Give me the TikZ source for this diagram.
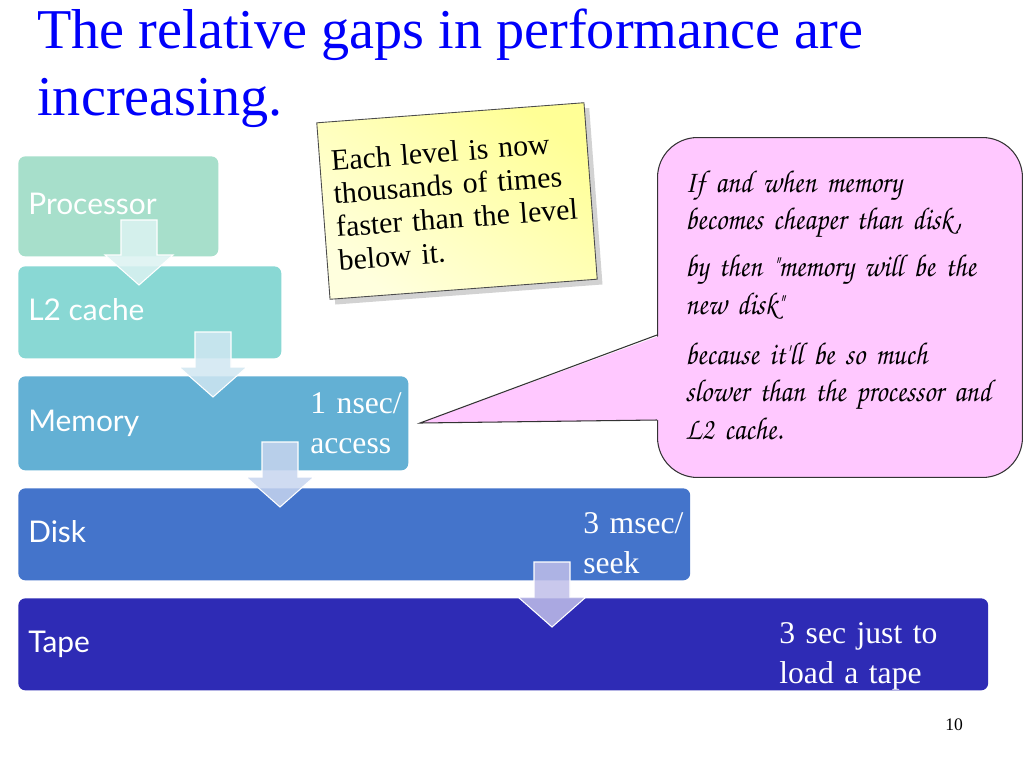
\documentclass[tikz,border=0pt]{standalone}
\usepackage{fontspec}
\setmainfont{Liberation Serif}
\newfontfamily\handfont{Lato}
\newfontfamily\chorusfont[FakeStretch=0.88]{TeX Gyre Chorus}
\usepackage{tikz}
\usetikzlibrary{positioning,calc,shadows}

\definecolor{procgreen}{RGB}{167,223,203}
\definecolor{cacheteal}{RGB}{137,216,212}
\definecolor{memblue}{RGB}{99,176,212}
\definecolor{diskblue}{RGB}{68,116,203}
\definecolor{tapeblue}{RGB}{46,43,181}
\definecolor{titleblue}{RGB}{0,0,250}
\definecolor{noteyellow}{RGB}{255,255,150}
\definecolor{notelight}{RGB}{255,255,222}
\definecolor{bubblepink}{RGB}{255,200,255}

\begin{document}
\begin{tikzpicture}[x=0.02cm, y=-0.02cm,
		box_style/.style={rectangle,rounded corners=4pt,inner sep=0pt,anchor=north west},
		label_style/.style={anchor=base west,inner sep=0pt,text=white,font=\handfont\fontsize{17}{20}\selectfont},
		time_style/.style={anchor=base west,inner sep=0pt,text=white,align=left,text width=4cm,font=\fontsize{18}{23}\selectfont},
		title_style/.style={anchor=base west,inner sep=0pt,text=titleblue,font=\fontsize{32}{38}\selectfont},
		arrow_style/.style={draw=white,line width=0.6pt,fill opacity=0.85},
		note_style/.style={rectangle,draw=black!70,line width=0.5pt,top color=noteyellow,bottom color=notelight,shading angle=-35,
			minimum width=5.36cm,minimum height=3.54cm,text width=4.9cm,align=left,
			drop shadow={shadow xshift=3pt,shadow yshift=-3pt,opacity=0.35},font=\fontsize{17}{19}\selectfont},
		bubble_style/.style={rectangle,rounded corners=0.8cm,draw=black!80,line width=0.6pt,fill=bubblepink,anchor=north west,
			minimum width=7.3cm,minimum height=6.8cm},
		bubble_text_style/.style={anchor=base west,inner sep=0pt,align=left,text width=6.6cm,font=\chorusfont\fontsize{18}{21.5}\selectfont}]
		
		\fill[white] (0,0) rectangle (1024,768);
		\useasboundingbox (0,0) rectangle (1024,768);
		
		% title
		\node[title_style] (title1) at (37,48) {The relative gaps in performance are};
		\node[title_style] (title2) at (37,115) {increasing.};
		
		% levels
		\node[box_style,fill=procgreen,minimum width=4cm,minimum height=2cm] (proc) at (18,156) {};
		\node[box_style,fill=cacheteal,minimum width=5.26cm,minimum height=1.84cm] (cache) at (18,266) {};
		\node[box_style,fill=memblue,minimum width=7.8cm,minimum height=1.88cm] (mem) at (18,376) {};
		\node[box_style,fill=diskblue,minimum width=13.44cm,minimum height=1.84cm] (disk) at (18,488) {};
		\node[box_style,fill=tapeblue,minimum width=19.4cm,minimum height=1.84cm] (tape) at (18,598) {};
		
		\foreach \ax/\ay/\ac in {139/220/cacheteal, 213/332/memblue, 280/442/diskblue, 552/562/tapeblue}
			\filldraw[arrow_style,fill=\ac!30!white] (\ax-18,\ay) -- (\ax+18,\ay) -- (\ax+18,\ay+35) -- (\ax+34,\ay+35)
				-- (\ax,\ay+65) -- (\ax-34,\ay+35) -- (\ax-18,\ay+35) -- cycle;
		
		\node[label_style] (proc_t) at ($(proc.west)+(10,8)$) {Processor};
		\node[label_style] (cache_t) at ($(cache.west)+(10,8)$) {L2 cache};
		\node[label_style] (mem_t) at ($(mem.west)+(10,8)$) {Memory};
		\node[label_style] (disk_t) at ($(disk.west)+(10,8)$) {Disk};
		\node[label_style] (tape_t) at ($(tape.west)+(10,8)$) {Tape};
		
		\node[time_style] (mem_s) at (310,413) {1 nsec/\\access};
		\node[time_style] (disk_s) at (583,533) {3 msec/\\seek};
		\node[time_style] (tape_s) at (779,643) {3 sec just to\\load a tape};
		
		% sticky note
		\node[note_style,rotate=4.3] (note) at (457,201) {Each level is now\\thousands of times\\faster than the level\\below it.};
		
		% speech bubble
		\node[bubble_style] (bubble) at (657,137) {};
		\coordinate (tip) at (420,423);
		\fill[bubblepink] ($(bubble.north west)+(5,198)$) -- (tip) -- ($(bubble.north west)+(5,283)$) -- cycle;
		\draw[draw=black!80,line width=0.6pt] ($(bubble.north west)+(0,198)$) -- (tip) -- ($(bubble.north west)+(0,283)$);
		\node[bubble_text_style] (bubble_t) at (685,192) {If and when memory\\becomes cheaper than disk,\\[5pt]by then "memory will be the\\new disk"\\[7pt]because it'll be so much\\slower than the processor and\\L2 cache.};
		
		\node[anchor=base west,inner sep=0pt,font=\fontsize{10}{12}\selectfont] (page) at (945,730) {10};
		
\end{tikzpicture}
\end{document}
